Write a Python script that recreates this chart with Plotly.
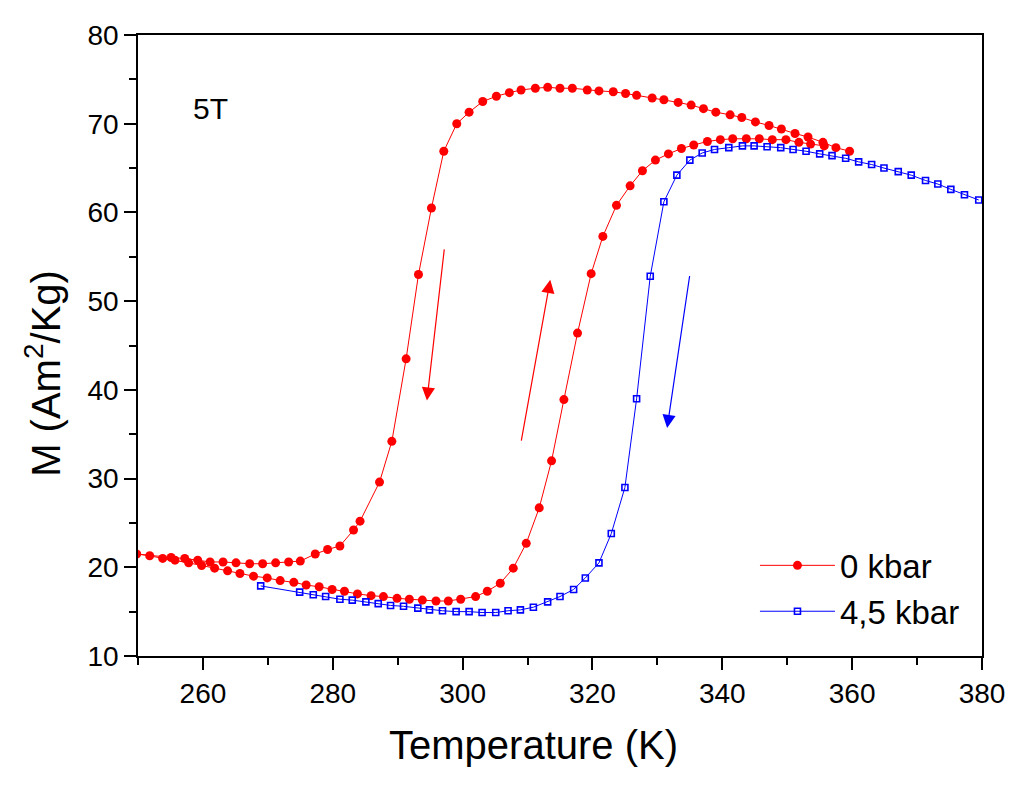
import plotly.graph_objects as go

# 0 kbar loop: cooling branch (from 360 K down), then heating branch (up to 360 K)
t_cool_0 = [359.6, 357.5, 355.5, 353.2, 351.2, 349.1, 347.2, 345.1, 343.0, 341.2,
            339.0, 337.1, 335.2, 333.2, 331.0, 329.2, 326.8, 325.1, 323.2, 321.0,
            319.2, 316.9, 315.0, 313.1, 311.2, 309.0, 307.2, 305.2, 303.1, 301.0,
            299.1, 297.1, 295.2, 293.2, 291.3, 289.1, 287.2, 284.2, 283.2, 281.1,
            279.2, 277.3, 275.0, 273.2, 271.2, 269.2, 267.2, 265.1, 263.1, 261.1,
            259.2, 257.2, 255.1]
m_cool_0 = [66.9, 67.3, 67.9, 68.5, 68.9, 69.4, 69.8, 70.2, 70.7, 71.0,
            71.3, 71.7, 72.1, 72.4, 72.7, 72.9, 73.2, 73.4, 73.6, 73.7,
            73.8, 74.0, 74.0, 74.1, 74.0, 73.8, 73.5, 73.1, 72.5, 71.3,
            70.0, 66.9, 60.5, 53.0, 43.5, 34.2, 29.6, 25.2, 24.2, 22.4,
            22.0, 21.5, 20.7, 20.6, 20.5, 20.4, 20.4, 20.5, 20.6, 20.6,
            20.8, 21.0, 21.1]
t_heat_0 = [249.8, 251.8, 253.8, 255.7, 257.8, 259.8, 261.8, 263.8, 265.7, 267.8,
            269.9, 271.9, 274.0, 275.9, 277.9, 279.9, 281.8, 283.8, 285.9, 287.8,
            289.9, 291.8, 293.8, 295.9, 297.8, 299.7, 302.0, 303.8, 305.8, 307.8,
            309.8, 311.8, 313.7, 315.6, 317.7, 319.8, 321.6, 323.7, 325.8, 327.7,
            329.7, 331.7, 333.7, 335.6, 337.7, 339.7, 341.6, 343.7, 345.7, 347.7,
            349.8, 351.8, 353.6, 355.7]
m_heat_0 = [21.5, 21.3, 21.0, 20.8, 20.5, 20.2, 19.9, 19.6, 19.3, 19.0,
            18.8, 18.5, 18.3, 18.0, 17.8, 17.5, 17.3, 17.0, 16.8, 16.7,
            16.5, 16.4, 16.3, 16.2, 16.2, 16.4, 16.7, 17.3, 18.2, 19.9,
            22.7, 26.7, 32.0, 38.9, 46.4, 53.1, 57.3, 60.8, 63.0, 64.7,
            65.9, 66.6, 67.2, 67.6, 68.0, 68.2, 68.3, 68.3, 68.3, 68.2,
            68.2, 67.9, 67.7, 67.5]

# 4,5 kbar
t_45 = [268.9, 274.9, 277.0, 278.9, 281.1, 283.0, 285.1, 287.0, 288.9, 290.9,
        293.1, 294.9, 296.9, 299.0, 301.0, 303.0, 305.1, 307.0, 308.9, 310.9,
        313.1, 315.0, 317.1, 318.9, 321.0, 322.9, 325.0, 326.8, 328.9, 331.0,
        333.0, 335.0, 336.9, 338.8, 341.0, 343.1, 344.9, 346.9, 349.0, 350.9,
        352.9, 355.0, 356.9, 359.0, 361.0, 363.0, 364.9, 367.1, 369.1, 371.3,
        373.2, 375.2, 377.3, 379.5]
m_45 = [17.9, 17.2, 16.9, 16.7, 16.4, 16.3, 16.1, 15.9, 15.7, 15.6,
        15.4, 15.2, 15.1, 15.0, 15.0, 14.9, 14.9, 15.1, 15.2, 15.5,
        16.1, 16.7, 17.5, 18.8, 20.5, 23.8, 29.0, 39.0, 52.8, 61.2,
        64.2, 65.9, 66.7, 67.1, 67.3, 67.5, 67.5, 67.4, 67.3, 67.1,
        66.9, 66.6, 66.4, 66.1, 65.7, 65.4, 65.0, 64.6, 64.2, 63.6,
        63.2, 62.6, 62.0, 61.4]

# direction arrows: (tail T, tail M, tip T, tip M, colour)
arrows = [
    (297.2, 56.0, 294.5, 38.8, "red"),
    (309.0, 34.1, 313.5, 52.4, "red"),
    (335.0, 53.0, 331.5, 35.7, "blue"),
]

FONT = "Liberation Sans, Arial, sans-serif"

fig = go.Figure()

fig.add_trace(go.Scatter(
    x=t_cool_0 + t_heat_0, y=m_cool_0 + m_heat_0,
    mode="lines+markers", name="0 kbar",
    line=dict(color="#ff0000", width=1),
    marker=dict(symbol="circle", size=9, color="#ff0000"),
))

fig.add_trace(go.Scatter(
    x=t_45, y=m_45,
    mode="lines+markers", name="4,5 kbar",
    line=dict(color="#0000ff", width=1),
    marker=dict(symbol="square-open", size=6, color="#0000ff", line=dict(width=1.6)),
))

for ax0, ay0, x1, y1, c in arrows:
    fig.add_annotation(
        x=x1, y=y1, ax=ax0, ay=ay0, xref="x", yref="y", axref="x", ayref="y",
        text="", showarrow=True, arrowhead=2, arrowsize=2.2, arrowwidth=1.2,
        arrowcolor=c,
    )

fig.add_annotation(x=261.1, y=71.7, xref="x", yref="y", text="5T",
                   showarrow=False, font=dict(family=FONT, size=30, color="black"))

# axis titles placed as annotations (they sit off-centre in the original)
fig.add_annotation(x=(533 - 138) / 844, y=-(746 - 656) / 625, xref="paper", yref="paper",
                   text="Temperature (K)", showarrow=False, xanchor="center", yanchor="middle",
                   font=dict(family=FONT, size=40, color="black"))
fig.add_annotation(x=-(138 - 43) / 844, y=(656 - 372) / 625, xref="paper", yref="paper",
                   text="M (Am<sup>2</sup>/Kg)", showarrow=False, textangle=-90,
                   xanchor="center", yanchor="middle",
                   font=dict(family=FONT, size=40, color="black"))

axis_common = dict(
    showline=True, linecolor="black", linewidth=1.5, mirror=True,
    ticks="outside", ticklen=12, tickwidth=1.5, tickcolor="black",
    showgrid=False, zeroline=False,
    tickfont=dict(family=FONT, size=28, color="black"),
)

fig.update_xaxes(
    range=[250, 380], dtick=20, tick0=260,
    minor=dict(ticks="outside", ticklen=7, tickwidth=1.5, tickcolor="black", dtick=10, tick0=250, showgrid=False),
    **axis_common,
)
fig.update_yaxes(
    range=[10, 80], dtick=10,
    minor=dict(ticks="outside", ticklen=7, tickwidth=1.5, tickcolor="black", dtick=5, showgrid=False),
    **axis_common,
)

# the page adds an 8 px body margin, so the margins are shifted by 8 px
fig.update_layout(
    width=1024, height=786,
    margin=dict(l=130, r=50, t=23, b=138),
    paper_bgcolor="white", plot_bgcolor="white",
    showlegend=True,
    legend=dict(x=0.731, y=0.191, xanchor="left", yanchor="top", itemwidth=75,
                bgcolor="rgba(0,0,0,0)", font=dict(family=FONT, size=33, color="black"),
                tracegroupgap=0),
)

fig.write_html("out.html")
